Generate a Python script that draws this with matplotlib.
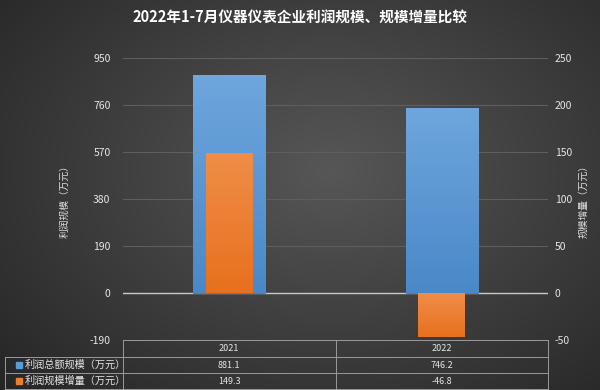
import numpy as np
import matplotlib
matplotlib.use("Agg")
import matplotlib.pyplot as plt
from matplotlib.patches import Rectangle

plt.rcParams['font.family'] = ['Noto Sans CJK SC', 'DejaVu Sans']
plt.rcParams['axes.unicode_minus'] = False

title = "2022年1-7月仪器仪表企业利润规模、规模增量比较"
categories = ["2021", "2022"]
profit_total = [881.1, 746.2]
profit_increase = [149.3, -46.8]
series_names = ["利润总额规模（万元）", "利润规模增量（万元）"]
left_ticks = [-190, 0, 190, 380, 570, 760, 950]
right_ticks = [-50, 0, 50, 100, 150, 200, 250]
left_label = "利润规模（万元）"
right_label = "规模增量（万元）"

W, H = 600, 390
fig = plt.figure(figsize=(6, 3.9), dpi=100)

# background radial gradient
bg = fig.add_axes([0, 0, 1, 1], zorder=-10)
yy, xx = np.mgrid[0:H, 0:W]
d = np.sqrt(((xx - 330) / 420) ** 2 + ((yy - 170) / 300) ** 2)
v = np.clip(0.34 - 0.18 * d, 0.14, 0.36)
bg.imshow(np.dstack([v, v, v]), extent=[0, 1, 0, 1], aspect='auto', origin='upper')
bg.set_xlim(0, 1); bg.set_ylim(0, 1)
bg.axis('off')

L, R, T, B = 123, 548, 58, 340
ax = fig.add_axes([L / W, 1 - B / H, (R - L) / W, (B - T) / H])
ax.set_facecolor('none')
ax2 = ax.twinx()

x = np.arange(len(categories))
ax.set_xlim(-0.5, len(categories) - 0.5)
ax.set_ylim(left_ticks[0], left_ticks[-1])
ax2.set_ylim(right_ticks[0], right_ticks[-1])
ax.set_yticks(left_ticks)
ax2.set_yticks(right_ticks)
ax.set_xticks([])

for a in (ax, ax2):
    for s in a.spines.values():
        s.set_visible(False)
ax.tick_params(axis='y', length=0, colors='#e6e6e6', labelsize=7.5, pad=9)
ax2.tick_params(axis='y', length=0, colors='#e6e6e6', labelsize=7.5, pad=5)

for t in left_ticks:
    ax.axhline(t, color='#5e5e5e', lw=0.8, zorder=0)
ax.axhline(0, color='#c8c8c8', lw=1.0, zorder=1)

def gradient_bars(a, bars, c_top, c_bot):
    for b in bars:
        x0, y0 = b.get_x(), b.get_y()
        w, h = b.get_width(), b.get_height()
        ylo, yhi = min(y0, y0 + h), max(y0, y0 + h)
        n = 64
        t = np.linspace(0, 1, n)[:, None]
        c1 = np.array(matplotlib.colors.to_rgb(c_top))
        c2 = np.array(matplotlib.colors.to_rgb(c_bot))
        img = (c1 * (1 - t) + c2 * t)[:, None, :]
        im = a.imshow(img, extent=[x0, x0 + w, ylo, yhi], origin='upper',
                      aspect='auto', zorder=b.get_zorder())
        im.set_clip_path(b)
        b.set_facecolor('none')
    a.set_aspect('auto')

b1 = ax.bar(x, profit_total, width=0.34, color='#5b9bd5', zorder=2,
            edgecolor='#3a6e9e', linewidth=0.6)
gradient_bars(ax, b1, '#6ea6dd', '#4a88c8')
ax.set_xlim(-0.5, len(categories) - 0.5)
ax.set_ylim(left_ticks[0], left_ticks[-1])

ax2.set_zorder(ax.get_zorder() + 1)
ax2.patch.set_visible(False)
b2 = ax2.bar(x, profit_increase, width=0.22, color='#ed7d31', zorder=3)
gradient_bars(ax2, b2, '#f08d48', '#e8701e')
ax2.set_xlim(-0.5, len(categories) - 0.5)
ax2.set_ylim(right_ticks[0], right_ticks[-1])

fig.text(65 / W, 1 - 199 / H, left_label, rotation=90, ha='center', va='center',
         color='#e0e0e0', fontsize=7)
fig.text(584 / W, 1 - 199 / H, right_label, rotation=90, ha='center', va='center',
         color='#e0e0e0', fontsize=7)

fig.text(0.5, 1 - 18 / H, title, ha='center', va='center', color='white',
         fontsize=10.5, fontweight='bold')

# data table
lc = '#9a9a9a'
rows_y = [340, 357, 373, 389]
def fy(p):
    return 1 - p / H
def fx(p):
    return p / W
tl = dict(color=lc, lw=0.7, transform=fig.transFigure)
cat_edges = [L + (R - L) * i / len(categories) for i in range(len(categories) + 1)]
fig.add_artist(plt.Line2D([fx(L), fx(R)], [fy(rows_y[0])] * 2, **tl))
for yv in rows_y[1:]:
    fig.add_artist(plt.Line2D([fx(5), fx(R)], [fy(yv)] * 2, **tl))
for xe in cat_edges:
    fig.add_artist(plt.Line2D([fx(xe)] * 2, [fy(rows_y[0]), fy(rows_y[-1])], **tl))
fig.add_artist(plt.Line2D([fx(5)] * 2, [fy(rows_y[1]), fy(rows_y[-1])], **tl))

for i, c in enumerate(categories):
    cx = (cat_edges[i] + cat_edges[i + 1]) / 2
    fig.text(fx(cx), fy((rows_y[0] + rows_y[1]) / 2), c, ha='center', va='center',
             color='#e6e6e6', fontsize=6.5)
    fig.text(fx(cx), fy((rows_y[1] + rows_y[2]) / 2), f"{profit_total[i]}", ha='center',
             va='center', color='#e6e6e6', fontsize=6.5)
    fig.text(fx(cx), fy((rows_y[2] + rows_y[3]) / 2), f"{profit_increase[i]}", ha='center',
             va='center', color='#e6e6e6', fontsize=6.5)

for j, (name, col) in enumerate(zip(series_names, ['#5b9bd5', '#ed7d31'])):
    yc = (rows_y[j + 1] + rows_y[j + 2]) / 2
    fig.add_artist(Rectangle((fx(16), fy(yc + 3)), 6 / W, 6 / H, color=col,
                             transform=fig.transFigure))
    fig.text(fx(25), fy(yc), name, ha='left', va='center', color='#e6e6e6', fontsize=7.3)

fig.savefig('out.png', dpi=100)
